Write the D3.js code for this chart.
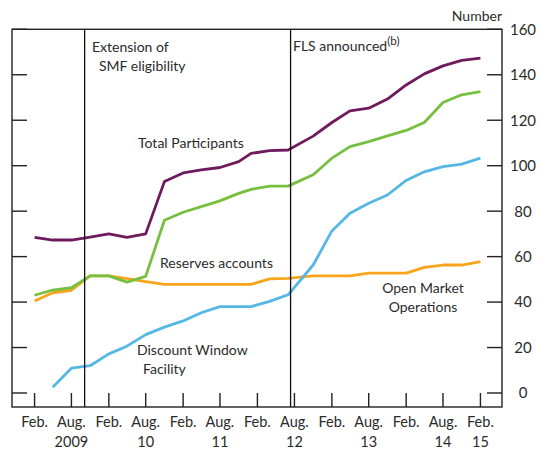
<!DOCTYPE html>
<html>
<head>
<meta charset="utf-8">
<script src="https://cdn.jsdelivr.net/npm/d3@7"></script>
<style>
    body { margin: 0; background: #fff; }
    text { font-family: Lato, "Open Sans", sans-serif; fill: #2b2b2b; }
</style>
</head>
<body>
<div id="chart"></div>
<script>
// quarterly-ish observation dates (Jan/Apr/Jul 2012 in the data)
var dates = ["2009-02", "2009-05", "2009-08", "2009-11", "2010-02", "2010-05", "2010-08", "2010-11",
    "2011-02", "2011-05", "2011-08", "2011-11", "2012-01", "2012-04", "2012-07", "2012-11",
    "2013-02", "2013-05", "2013-08", "2013-11", "2014-02", "2014-05", "2014-08", "2014-11", "2015-02"];

var totalParticipants = [68.5, 67.3, 67.3, 68.6, 70, 68.5, 70, 93, 96.8, 98.2, 99.2, 101.8,
    105.4, 106.6, 106.9, 113, 119, 124.1, 125.3, 129.3, 135.5, 140.4, 143.9, 146.3, 147.3];
var reservesAccounts = [43, 45.3, 46.3, 51.5, 51.5, 48.8, 51.3, 76, 79.5, 82, 84.5, 87.8,
    89.6, 91, 91, 96, 103.3, 108.4, 110.6, 113.1, 115.5, 119, 127.8, 131.2, 132.6];
var discountWindow = [null, 2.5, 10.9, 12, 17.2, 20.6, 25.7, 29, 31.7, 35.3, 38, 38,
    38, 40.3, 43.2, 56.3, 71.3, 79.1, 83.5, 87.1, 93.5, 97.3, 99.6, 100.7, 103.3];
var openMarketOps = [40.5, 44.1, 45.2, 51.5, 51.5, 50.3, 49, 47.8, 47.8, 47.8, 47.8, 47.8,
    47.8, 50.2, 50.4, 51.5, 51.5, 51.5, 52.7, 52.7, 52.7, 55.3, 56.3, 56.3, 57.8];

var yTicks = [0, 20, 40, 60, 80, 100, 120, 140, 160];
var xTickDates = ["2009-02", "2009-08", "2010-02", "2010-08", "2011-02", "2011-08", "2012-02",
    "2012-08", "2013-02", "2013-08", "2014-02", "2014-08", "2015-02"];
var xTickLabels = ["Feb.", "Aug.", "Feb.", "Aug.", "Feb.", "Aug.", "Feb.", "Aug.", "Feb.", "Aug.", "Feb.", "Aug.", "Feb."];
var yearLabels = ["2009", "10", "11", "12", "13", "14", "15"];
var yearDates = ["2009-08", "2010-08", "2011-08", "2012-08", "2013-08", "2014-08", "2015-02"];

var events = ["2009-10-05", "2012-07-13"];

(function () {
    var width = 539, height = 450;
    var left = 12, right = 502, plotTop = 29.3, bottom = 407;

    var parseMonth = d3.timeParse("%Y-%m");
    var parseDay = d3.timeParse("%Y-%m-%d");

    var x = d3.scaleTime()
        .domain([parseDay("2008-10-13"), parseDay("2015-05-18")])
        .range([left, right]);
    var y = d3.scaleLinear()
        .domain([-6.16, 160])
        .range([bottom, plotTop]);

    var svg = d3.select("#chart").append("svg")
        .attr("width", width)
        .attr("height", height);

    // lines
    var series = [
        { values: openMarketOps, color: "#f9a51b" },
        { values: discountWindow, color: "#55b7e6" },
        { values: reservesAccounts, color: "#76bf3f" },
        { values: totalParticipants, color: "#6e1a5c" }
    ];

    var line = d3.line()
        .defined(function (d) { return d.v != null; })
        .x(function (d) { return x(d.date); })
        .y(function (d) { return y(d.v); });

    series.forEach(function (s) {
        var pts = dates.map(function (d, i) {
            return { date: parseMonth(d), v: s.values[i] };
        });
        svg.append("path")
            .datum(pts)
            .attr("fill", "none")
            .attr("stroke", s.color)
            .attr("stroke-width", 2.8)
            .attr("stroke-linejoin", "round")
            .attr("d", line);
    });

    // event lines
    svg.selectAll(".event")
        .data(events)
        .enter()
        .append("line")
        .attr("x1", function (d) { return x(parseDay(d)); })
        .attr("x2", function (d) { return x(parseDay(d)); })
        .attr("y1", plotTop)
        .attr("y2", bottom)
        .attr("stroke", "#111")
        .attr("stroke-width", 1.3);

    // frame
    svg.append("rect")
        .attr("x", left)
        .attr("y", plotTop)
        .attr("width", right - left)
        .attr("height", bottom - plotTop)
        .attr("fill", "none")
        .attr("stroke", "#222")
        .attr("stroke-width", 1.4);

    // y ticks, both sides, pointing inwards
    var tickLen = 15;
    yTicks.forEach(function (t) {
        svg.append("line")
            .attr("x1", left).attr("x2", left + tickLen)
            .attr("y1", y(t)).attr("y2", y(t))
            .attr("stroke", "#222").attr("stroke-width", 1.4);
        svg.append("line")
            .attr("x1", right - tickLen).attr("x2", right)
            .attr("y1", y(t)).attr("y2", y(t))
            .attr("stroke", "#222").attr("stroke-width", 1.4);
        svg.append("text")
            .attr("x", 523)
            .attr("y", y(t))
            .attr("dy", "0.36em")
            .attr("text-anchor", "middle")
            .style("font-size", "15px")
            .text(t);
    });

    // x ticks
    xTickDates.forEach(function (d, i) {
        var px = x(parseMonth(d));
        svg.append("line")
            .attr("x1", px).attr("x2", px)
            .attr("y1", bottom - 14).attr("y2", bottom)
            .attr("stroke", "#222").attr("stroke-width", 1.4);
        svg.append("text")
            .attr("x", px)
            .attr("y", 427)
            .attr("text-anchor", "middle")
            .style("font-size", "14.5px")
            .text(xTickLabels[i]);
    });

    yearDates.forEach(function (d, i) {
        svg.append("text")
            .attr("x", x(parseMonth(d)))
            .attr("y", 447)
            .attr("text-anchor", "middle")
            .style("font-size", "14.5px")
            .text(yearLabels[i]);
    });

    // annotations
    function label(tx, ty, str, anchor) {
        return svg.append("text")
            .attr("x", tx)
            .attr("y", ty)
            .attr("text-anchor", anchor || "start")
            .style("font-size", "14px")
            .text(str);
    }

    label(502, 21, "Number", "end");
    label(92, 52, "Extension of");
    label(99, 71, "SMF eligibility");
    var fls = label(293, 51, "FLS announced");
    fls.append("tspan").attr("dy", -6).style("font-size", "11.5px").text("(b)");
    label(138, 148, "Total Participants");
    label(160, 268, "Reserves accounts");
    label(137, 355, "Discount Window");
    label(143, 374, "Facility");
    label(423, 293, "Open Market", "middle");
    label(423, 312, "Operations", "middle");
})();
</script>
</body>
</html>
